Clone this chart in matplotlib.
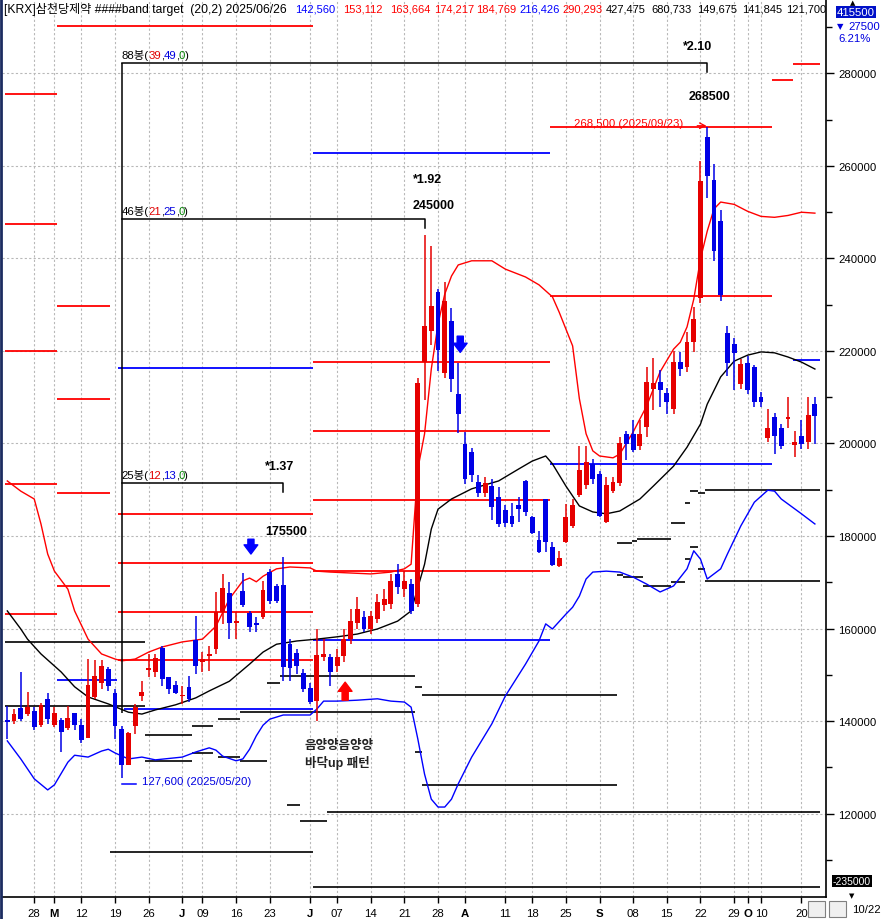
import numpy as np
import pandas as pd
import matplotlib
matplotlib.use("Agg")
import matplotlib.pyplot as plt
from matplotlib.patches import Rectangle

plt.rcParams['font.family'] = ['Liberation Sans', 'Noto Sans CJK KR', 'DejaVu Sans']

# ---- trading calendar (KRX) ----
HOLIDAYS = ["2025-05-01", "2025-05-05", "2025-05-06", "2025-06-03", "2025-06-06",
            "2025-08-15", "2025-10-03", "2025-10-06", "2025-10-07", "2025-10-08", "2025-10-09"]
dates = pd.bdate_range("2025-04-22", "2025-10-22")
dates = dates[~dates.isin(pd.to_datetime(HOLIDAYS))]

# ---- OHLC ----
opens = [140200, 140000, 142800, 141500, 142200, 139100, 144800, 139100, 140200, 138500,
         141700, 139100, 136300, 145200, 148200, 151200, 146100, 138300, 130500, 138900,
         145400, 151000, 150600, 155800, 149500, 147800, 145400, 147400, 157500, 152800,
         154100, 155600, 163600, 167700, 161200, 168100, 163400, 161200, 162500, 172200,
         169200, 169400, 156600, 154700, 150400, 147100, 144300, 153800, 153800, 151900,
         154100, 157700, 161200, 162500, 159900, 162100, 165100, 165300, 171800, 168500,
         169600, 165300, 217700, 224400, 232800, 215300, 226400, 210600, 199800, 198100,
         191600, 189400, 190900, 188400, 185700, 184400, 186600, 191800, 184000, 179100,
         188000, 177600, 173500, 178800, 182100, 188800, 191000, 195600, 193400, 183100,
         189700, 191400, 202000, 202000, 199400, 203500, 211700, 213400, 211000, 207400,
         217600, 216500, 221900, 231400, 266200, 256900, 248200, 223800, 221600, 212800,
         217300, 216500, 210000, 201100, 205800, 203400, 205300, 199600, 201600, 200300,
         208600]
highs = [143200, 142600, 150600, 146300, 143000, 143900, 146100, 143000, 140600, 143200,
         141700, 140400, 153400, 153200, 153200, 151700, 146900, 138900, 137600, 143700,
         148600, 154500, 154500, 156200, 149500, 148600, 147600, 149700, 162700, 154900,
         156200, 167900, 171800, 170000, 163600, 172000, 163800, 162500, 170300, 172900,
         169600, 175500, 157700, 155600, 151200, 148200, 159900, 157700, 154500, 155600,
         159900, 164200, 166800, 163800, 163800, 167500, 168500, 171800, 174000, 172400,
         170700, 214200, 245000, 242800, 233300, 235000, 229400, 217500, 202400, 199100,
         193100, 192700, 192300, 190500, 186600, 187200, 188400, 192100, 184400, 181100,
         188000, 178600, 176700, 187000, 188000, 199400, 199400, 196700, 194000, 192700,
         192700, 201400, 202800, 205000, 205000, 216500, 218400, 215800, 212100, 220100,
         219700, 224100, 229500, 261000, 268500, 260400, 250400, 225300, 222700, 218200,
         219000, 216900, 211100, 207400, 206700, 204200, 210000, 202800, 205000, 210000,
         210000]
lows = [136100, 139400, 140000, 141100, 138100, 138700, 139400, 138700, 133300, 138100,
        138100, 135200, 136300, 144800, 146900, 146500, 136100, 127600, 130500, 137200,
        144300, 149500, 149500, 147600, 145800, 145800, 143700, 144100, 150200, 150600,
        150800, 154500, 161000, 157700, 157700, 164600, 159200, 159200, 162100, 165300,
        165500, 148600, 148600, 150200, 146300, 143700, 140000, 153000, 147600, 150600,
        152800, 156600, 159900, 159200, 158800, 161200, 163800, 164200, 167500, 166800,
        163100, 164600, 209300, 221300, 215700, 214200, 211100, 202200, 191200, 191600,
        188400, 188400, 183400, 181900, 181900, 181900, 183100, 184400, 180400, 176300,
        176500, 173500, 173300, 178400, 181800, 188400, 190100, 191200, 184000, 182900,
        189200, 190900, 196400, 198100, 198700, 201400, 207200, 207800, 206300, 206300,
        214600, 215400, 219700, 230300, 253000, 239500, 230900, 214600, 211500, 211700,
        210800, 207800, 207800, 200400, 197700, 198900, 203300, 197000, 198900, 198900,
        199800]
closes = [139800, 141500, 140400, 143000, 138700, 143500, 140400, 141700, 137600, 140600,
          139100, 135900, 147800, 149700, 151900, 147600, 138900, 130500, 137400, 143000,
          146300, 151500, 153600, 149100, 146900, 146100, 145600, 144800, 151900, 153400,
          154500, 163600, 168800, 161200, 161600, 165100, 160300, 160800, 168300, 165900,
          165900, 151700, 151500, 151900, 146900, 144100, 154300, 154500, 150600, 153800,
          157700, 161600, 164200, 159900, 162700, 165700, 166400, 170300, 169000, 170300,
          163800, 213000, 225300, 229800, 220300, 230900, 213900, 206300, 192300, 193100,
          189400, 191400, 186200, 182500, 182900, 182700, 185900, 185100, 180600, 176500,
          178600, 173700, 175200, 184000, 186800, 194200, 196100, 192300, 184400, 191000,
          191600, 200000, 199800, 198500, 202000, 213400, 213000, 211500, 208900, 217600,
          216100, 221900, 226900, 256700, 257800, 241700, 232000, 217300, 219500, 217100,
          211500, 208900, 208900, 203300, 201600, 199400, 205800, 200400, 199800, 206100,
          206000]

# ---- Bollinger band (20,2): (candle index, price) ----
upper_idx = [0, 2, 4, 5, 6, 7, 9, 10, 12, 14, 16, 17, 19, 21, 23, 26, 29, 31, 33, 35, 36, 37,
             38, 40, 42, 45, 46, 48, 51, 54, 57, 59, 60, 61, 62, 63, 64, 65, 66, 67, 69, 72,
             74, 77, 79, 81, 82, 84, 85, 86, 87, 88, 90, 91, 93, 95, 97, 99, 100, 101, 102,
             103, 104, 105, 106, 108, 110, 112, 114, 116, 118, 120]
upper_val = [191900, 189700, 188000, 182600, 176100, 172400, 168500, 163800, 157700, 154500,
             153400, 153000, 153400, 154900, 156000, 157100, 157700, 160500, 166400, 170300,
             170900, 170100, 171300, 172900, 173300, 173100, 172400, 172200, 172000, 171800,
             172200, 172900, 173900, 194500, 202100, 216100, 225800, 232300, 236200, 238600,
             239500, 239500, 237700, 236000, 234300, 231700, 228400, 221100, 209700, 202100,
             198400, 197300, 196900, 197700, 202500, 208100, 215500, 220400, 221900, 225200,
             231200, 239900, 245900, 250700, 252200, 251700, 250200, 249100, 248900, 249300,
             250000, 249800]
mid_idx = [0, 2, 3, 5, 8, 10, 12, 15, 18, 20, 22, 25, 28, 30, 33, 36, 38, 40, 43, 46, 49, 52,
           55, 58, 60, 62, 63, 64, 66, 69, 73, 76, 78, 80, 81, 83, 85, 87, 89, 91, 94, 96, 99,
           101, 103, 104, 106, 108, 110, 112, 114, 116, 118, 120]
mid_val = [163800, 159900, 157700, 154500, 150600, 147400, 145200, 143700, 141900, 141500,
           142400, 143500, 145000, 146500, 148600, 152300, 154900, 156600, 157300, 157700,
           158200, 158800, 159900, 161600, 163800, 173900, 181500, 185800, 188000, 190200,
           191900, 194500, 196200, 197300, 195600, 190800, 186500, 185200, 184800, 185400,
           188000, 190800, 195100, 199200, 204200, 208500, 214400, 217800, 219100, 219800,
           219600, 218700, 217600, 216100]
lower_idx = [0, 2, 4, 6, 7, 9, 10, 12, 14, 15, 16, 18, 20, 22, 26, 28, 30, 31, 32, 34, 35, 36,
             37, 38, 39, 41, 45, 46, 47, 49, 52, 55, 57, 59, 60, 61, 62, 63, 64, 65, 66, 67,
             69, 72, 74, 77, 79, 80, 81, 83, 84, 85, 86, 87, 89, 91, 93, 95, 97, 99, 101, 102,
             103, 104, 106, 107, 109, 111, 113, 114, 115, 118, 120]
lower_val = [135700, 131800, 127500, 125100, 126200, 131100, 132600, 132200, 133500, 133900,
             133100, 131800, 132200, 131600, 132200, 133300, 134200, 133700, 132400, 131400,
             131800, 133900, 136800, 139100, 140400, 141300, 141300, 142600, 144300, 144300,
             144500, 144800, 144300, 144100, 143000, 136100, 128500, 123100, 121400, 121400,
             123100, 126400, 132200, 139400, 145400, 152300, 157300, 161000, 159900, 163100,
             164600, 167000, 170700, 172200, 172400, 172200, 171100, 169600, 167900, 169200,
             172900, 176800, 175000, 170700, 172900, 176100, 182200, 187300, 189900, 189700,
             188000, 184800, 182600]

# ---- target levels: price, from index, to index ----
red_lv = [275600, 247500, 220000, 191200, 163100,
          229700, 209600, 189300, 169200,
          290293, 184769, 174217, 163664, 153112,
          217700, 202600, 187700, 172500,
          268500, 231800, 278500, 282000]
red_from = [-0.3] * 5 + [7.4] * 4 + [7.4] + [16.5] * 4 + [45.4] * 4 + [80.6, 80.6, 113.6, 116.7]
red_to = [7.4] * 5 + [15.3] * 4 + [45.4] + [45.4] * 4 + [80.6] * 4 + [113.6, 113.6, 116.7, 120.8]

blue_lv = [148900, 216426, 142560, 262700, 157600, 195500, 218000]
blue_from = [7.4, 16.5, 17.3, 45.4, 45.4, 80.6, 116.7]
blue_to = [16.3, 45.4, 45.4, 80.6, 80.6, 113.6, 120.8]

black_lv = [157100, 143200, 137000, 131400, 138900, 133100, 140400, 132200, 131400, 141845,
            148200, 149675, 147400, 133300, 145600, 126200, 121800, 118400, 120300, 111700,
            104100, 178500, 178900, 179300, 182800, 187100, 189700, 189300, 190000, 171600,
            171100, 169200, 170100, 175000, 177600, 172900, 170300]
black_from = [-0.3, -0.3, 20.5, 20.5, 27.4, 27.4, 31.3, 31.3, 34.6, 34.6,
              38.6, 40.5, 60.6, 60.6, 61.6, 61.6, 41.6, 43.5, 47.5, 15.3,
              45.4, 90.6, 92.8, 93.6, 98.6, 100.7, 101.4, 102.6, 103.7, 90.6,
              91.5, 94.5, 98.6, 100.7, 101.4, 102.6, 103.7]
black_to = [20.5, 20.5, 27.4, 27.4, 30.6, 30.6, 34.6, 34.6, 38.6, 60.6,
            40.5, 60.6, 61.6, 61.6, 90.6, 90.6, 43.5, 47.5, 120.8, 45.4,
            120.8, 92.8, 93.6, 98.6, 100.7, 101.4, 102.6, 103.7, 120.8, 91.5,
            94.5, 98.6, 100.7, 101.4, 102.6, 103.7, 120.8]

# ---- wave boxes ----
box_start = 17
box_end = [41, 62, 104]
box_level = [191500, 248500, 282300]
box_counts = [(25, 12, 13, 0), (46, 21, 25, 0), (88, 39, 49, 0)]
box_ratio = ["*1.37", "*1.92", "*2.10"]
box_high = [175500, 245000, 268500]
box_ratio_x = [40.4, 62.5, 102.5]
box_ratio_y = [195100, 257200, 285900]
box_high_x = [41.4, 63.4, 104.4]
box_high_y = [181100, 251600, 275100]

tick_days = ["2025-04-28", "2025-05-02", "2025-05-12", "2025-05-19", "2025-05-26", "2025-06-02",
             "2025-06-09", "2025-06-16", "2025-06-23", "2025-07-01", "2025-07-07", "2025-07-14",
             "2025-07-21", "2025-07-28", "2025-08-01", "2025-08-11", "2025-08-18", "2025-08-25",
             "2025-09-01", "2025-09-08", "2025-09-15", "2025-09-22", "2025-09-29", "2025-10-01",
             "2025-10-10", "2025-10-20"]
tick_text = ["28", "M", "12", "19", "26", "J", "09", "16", "23", "J", "07", "14", "21", "28",
             "A", "11", "18", "25", "S", "08", "15", "22", "29", "O", "10", "20"]

RED = "#e60000"
BLUE = "#0000e6"

W, H = 881, 920
fig = plt.figure(figsize=(W / 100, H / 100), dpi=100)
ax = fig.add_axes([2 / W, 22 / H, 824 / W, 898 / H])
ax.set_xlim(-0.79, 121.65)
ax.set_ylim(101950, 296100)

x = np.arange(len(dates))
o, h, l, c = map(np.array, (opens, highs, lows, closes))
up = c >= o
col = np.where(up, RED, BLUE)

# grid
ax.set_axisbelow(True)
ax.grid(True, which="major", color="#b8b8b8", linestyle=(0, (2, 2)), linewidth=0.8)

# levels
ax.hlines(red_lv, red_from, red_to, colors="#ff0000", linewidth=1.3, zorder=2)
ax.hlines(blue_lv, blue_from, blue_to, colors="#0000ff", linewidth=1.3, zorder=2)
ax.hlines(black_lv, black_from, black_to, colors="black", linewidth=1.2, zorder=2)

# bands
ax.plot(upper_idx, upper_val, color="#ff0000", lw=1.0, zorder=3)
ax.plot(mid_idx, mid_val, color="black", lw=1.0, zorder=3)
ax.plot(lower_idx, lower_val, color="#0000ff", lw=1.0, zorder=3)

# candles
ax.vlines(x, l, h, colors=col, linewidth=1.1, zorder=4)
body = np.maximum(np.abs(c - o), 300)
ax.bar(x, body, bottom=np.minimum(o, c), width=0.72, color=col, linewidth=0, zorder=5)

# wave boxes
ax.vlines(box_start, 141800, max(box_level), colors="black", linewidth=1.1, zorder=6)
for end, lev, cnt, ratio, hi, rx, ry, hx, hy in zip(box_end, box_level, box_counts, box_ratio,
                                                    box_high, box_ratio_x, box_ratio_y,
                                                    box_high_x, box_high_y):
    ax.plot([box_start, end, end], [lev, lev, lev - 1900], color="black", lw=1.1, zorder=6)
    pieces = [(f"{cnt[0]}봉(", "black"), (str(cnt[1]), "#e00000"), (",", "black"),
              (str(cnt[2]), "#0000e0"), (",", "black"), (str(cnt[3]), "#008000"), (")", "black")]
    t = ax.annotate(pieces[0][0], xy=(box_start, lev), xytext=(0, 2), textcoords="offset points",
                    ha="left", va="bottom", fontsize=8.2, color="black", zorder=7)
    for s, cc in pieces[1:]:
        t = ax.annotate(s, xy=(1, 0), xycoords=t, xytext=(-0.3, 0), textcoords="offset points",
                        ha="left", va="bottom", fontsize=8.2, color=cc, zorder=7)
    ax.text(rx, ry, ratio, ha="center", va="center", fontsize=9, fontweight="bold")
    ax.text(hx, hy, str(hi), ha="center", va="center", fontsize=9, fontweight="bold")

# low / high labels
lo_i = int(np.argmin(l))
hi_i = int(np.argmax(h))
ax.plot([lo_i, lo_i + 2.1], [126400, 126400], color="#0000ff", lw=1.1)
ax.text(lo_i + 3.0, 127000, f"{l[lo_i]:,} ({dates[lo_i]:%Y/%m/%d})", color="#0000e0",
        fontsize=8.2, va="center", ha="left")
ax.text(hi_i - 3.6, 269200, f"{h[hi_i]:,} ({dates[hi_i]:%Y/%m/%d})", color="#ff0000",
        fontsize=8.2, va="center", ha="right")
ax.annotate("", xy=(hi_i + 0.3, 268700), xytext=(hi_i - 1.9, 268700),
            arrowprops=dict(arrowstyle="->", color="#ff0000", lw=0.9))

# signal arrows
arr = "simple,head_width=0.9,head_length=0.6,tail_width=0.4"
for xi, tail, tip, cc in [(36.2, 179300, 176100, "#0000ff"), (67.3, 223200, 219700, "#0000ff"),
                          (50.2, 144500, 148400, "#ff0000")]:
    ax.annotate("", xy=(xi, tip), xytext=(xi, tail),
                arrowprops=dict(arrowstyle=arr, fc=cc, ec=cc, mutation_scale=11,
                                shrinkA=0, shrinkB=0))

ax.text(44.2, 134800, "음양양음양양", fontsize=9, fontweight="bold", va="center", ha="left",
        color="#222222")
ax.text(44.2, 131200, "바닥up 패턴", fontsize=9, fontweight="bold", va="center", ha="left",
        color="#222222")

# axes styling
ax.yaxis.tick_right()
ax.set_yticks(range(120000, 290000, 20000))
ax.set_yticklabels([str(v) for v in range(120000, 290000, 20000)], fontsize=8.2)
ax.set_yticks(range(110000, 300000, 10000), minor=True)
ax.tick_params(axis="y", which="major", length=6, width=1, pad=3)
ax.tick_params(axis="y", which="minor", length=4, width=1)
tick_pos = [dates.get_loc(pd.Timestamp(d)) for d in tick_days]
ax.set_xticks(tick_pos)
ax.set_xticklabels(tick_text, fontsize=8.2)
for lab in ax.get_xticklabels():
    if lab.get_text().isalpha():
        lab.set_fontweight("bold")
ax.tick_params(axis="x", length=4, width=1, pad=4)
for side in ("top", "left"):
    ax.spines[side].set_visible(False)
ax.spines["right"].set_linewidth(1.2)
ax.spines["bottom"].set_linewidth(1.2)

# header line
header = [("[KRX]삼천당제약 ####band target  (20,2) 2025/06/26", "black", 4, 8.7),
          ("142,560", "#0000ff", 295, 8), ("153,112", "#ff0000", 343, 8),
          ("163,664", "#ff0000", 390, 8), ("174,217", "#ff0000", 434, 8),
          ("184,769", "#ff0000", 476, 8), ("216,426", "#0000ff", 519, 8),
          ("290,293", "#ff0000", 562, 8), ("427,475", "black", 606, 8),
          ("680,733", "black", 651, 8), ("149,675", "black", 697, 8),
          ("141,845", "black", 742, 8), ("121,700", "black", 786, 8)]
for s, cc, px, fs in header:
    fig.text(px / W, 1 - 9 / H, s, color=cc, fontsize=fs, va="center", ha="left")

# right-side price boxes
fig.text(853 / W, 1 - 3 / H, "▲", fontsize=5, ha="center", va="center", color="black",
         family="DejaVu Sans")
fig.text(856 / W, 1 - 13 / H, "415500", fontsize=8.2, ha="center", va="center", color="white",
         bbox=dict(boxstyle="square,pad=0.1", fc="#0010c8", ec="none"))
fig.text(840 / W, 1 - 27 / H, "▼", fontsize=6, ha="center", va="center", color="#0000e0",
         family="DejaVu Sans")
fig.text(848 / W, 1 - 27 / H, "27500", fontsize=8.2, ha="left", va="center", color="#0000e0")
fig.text(838 / W, 1 - 39 / H, "6.21%", fontsize=8.2, ha="left", va="center", color="#0000e0")
fig.text(852 / W, 1 - 882 / H, "-235000", fontsize=7.5, ha="center", va="center", color="white",
         bbox=dict(boxstyle="square,pad=0.1", fc="black", ec="none"))
fig.text(852 / W, 1 - 896 / H, "▼", fontsize=5, ha="center", va="center", color="black",
         family="DejaVu Sans")
fig.text(866 / W, 1 - 910 / H, "10/22", fontsize=8.2, ha="center", va="center", color="black")
for bx in (808, 829):
    fig.add_artist(Rectangle((bx / W, 1 - 918 / H), 17 / W, 16 / H, transform=fig.transFigure,
                             fc="#f0f0f0", ec="#808080", lw=0.8))
fig.add_artist(plt.Line2D([0.0015, 0.0015], [0, 1], transform=fig.transFigure,
                          color="#1c2c60", lw=2))

fig.savefig("out.png", dpi=100)
